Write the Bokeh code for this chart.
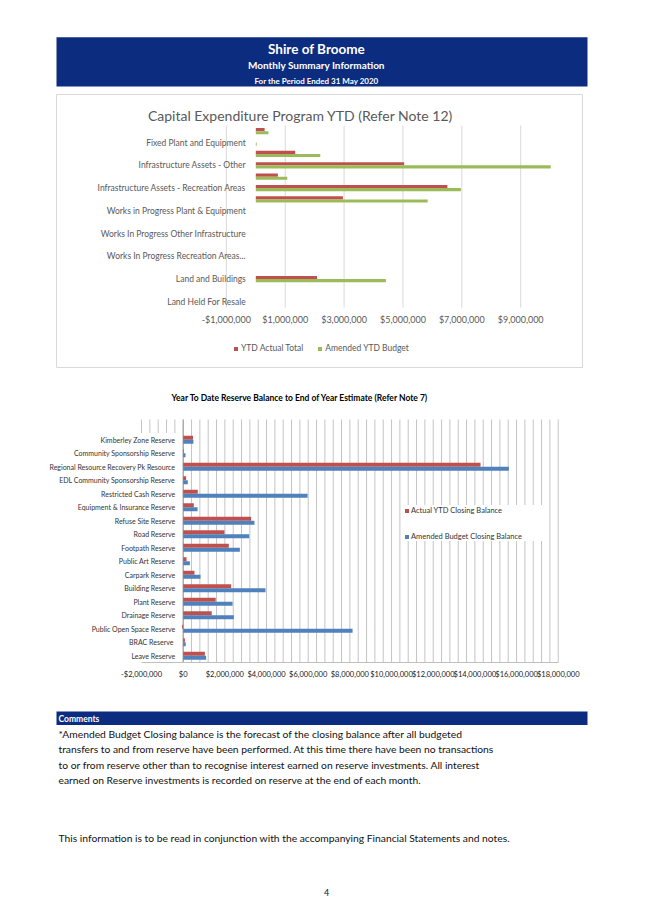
from bokeh.plotting import figure
from bokeh.layouts import column, row
from bokeh.models import (Range1d, FixedTicker, Legend, LegendItem, ColumnDataSource, Spacer)
from bokeh.core.properties import value
from bokeh.embed import file_html
from bokeh.resources import INLINE
import numpy as np

# ---------------- data ----------------
HEADER_LINES = ["Shire of Broome", "Monthly Summary Information", "For the Period Ended 31 May 2020"]

CAPEX_TITLE = "Capital Expenditure Program YTD (Refer Note 12)"
# top to bottom as drawn; only every other label is displayed (as in the source)
CAPEX_CATEGORIES = [
    "Furniture and Equipment",
    "Fixed Plant and Equipment",
    "Plant and Equipment",
    "Infrastructure Assets - Other",
    "Infrastructure Assets - Drainage",
    "Infrastructure Assets - Recreation Areas",
    "Infrastructure Assets - Roads",
    "Works in Progress Plant & Equipment",
    "Works In Progress Roads",
    "Works In Progress Other Infrastructure",
    "Works In Progress Footpaths",
    "Works In Progress Recreation Areas...",
    "Works In Progress Buildings",
    "Land and Buildings",
    "Land Under Control",
    "Land Held For Resale",
]
CAPEX_SHOWN = [False, True] * 8
CAPEX_ACTUAL = [300000, 0, 1340000, 5040000, 750000, 6510000, 2960000, 0,
                0, 0, 0, 0, 0, 2080000, 0, 0]
CAPEX_BUDGET = [430000, 30000, 2190000, 10020000, 1070000, 6970000, 5840000, 0,
                0, 0, 0, 0, 0, 4420000, 0, 0]
CAPEX_TICKS = [-1000000, 1000000, 3000000, 5000000, 7000000, 9000000]
CAPEX_TICK_LABELS = ["-$1,000,000", "$1,000,000", "$3,000,000", "$5,000,000",
                     "$7,000,000", "$9,000,000"]
CAPEX_SERIES = ["YTD Actual Total", "Amended YTD Budget"]

RES_TITLE = "Year To Date Reserve Balance to End of Year Estimate (Refer Note 7)"
RES_CATEGORIES = [
    "Kimberley Zone Reserve",
    "Community Sponsorship Reserve",
    "Regional Resource Recovery Pk Resource",
    "EDL Community Sponsorship Reserve",
    "Restricted Cash Reserve",
    "Equipment & Insurance Reserve",
    "Refuse Site Reserve",
    "Road Reserve",
    "Footpath Reserve",
    "Public Art Reserve",
    "Carpark Reserve",
    "Building Reserve",
    "Plant Reserve",
    "Drainage Reserve",
    "Public Open Space Reserve",
    "BRAC  Reserve",
    "Leave Reserve",
]
RES_ACTUAL = [470000, 30000, 14270000, 140000, 700000, 510000, 3260000, 1980000,
              2190000, 160000, 540000, 2300000, 1560000, 1370000, -50000, 80000, 1040000]
RES_BUDGET = [490000, 110000, 15630000, 220000, 5970000, 690000, 3420000, 3170000,
              2720000, 320000, 830000, 3950000, 2370000, 2430000, 8130000, 120000, 1100000]
RES_TICKS = [-2000000, 0, 2000000, 4000000, 6000000, 8000000, 10000000,
             12000000, 14000000, 16000000, 18000000]
RES_TICK_LABELS = ["-$2,000,000", "$0", "$2,000,000", "$4,000,000", "$6,000,000",
                   "$8,000,000", "$10,000,000", "$12,000,000", "$14,000,000",
                   "$16,000,000", "$18,000,000"]
RES_MINOR_STEP = 400000
RES_SERIES = ["Actual YTD Closing Balance", "Amended Budget Closing Balance"]

COMMENT_HEAD = "Comments"
COMMENT_LINES = [
    "*Amended Budget Closing balance is the forecast of the closing balance after all budgeted",
    "transfers to and from reserve have been performed. At this time there have been no transactions",
    "to or from reserve other than to recognise interest earned on reserve investments. All interest",
    "earned on Reserve investments is recorded on reserve at the end of each month.",
]
FOOTNOTE = "This information is to be read in conjunction with the accompanying Financial Statements and notes."
PAGE_NUMBER = "4"

# ---------------- style ----------------
FONT = "Lato"
NAVY = "#0c2c80"
RED = "#c0504d"
GREEN = "#9bbb59"
BLUE = "#4f81bd"
GREY = "#595959"
DARK = "#333333"


def fig(**kw):
    kw.setdefault("output_backend", "svg")
    kw.setdefault("toolbar_location", None)
    try:
        return figure(frame_align=False, **kw)
    except Exception:
        return figure(**kw)


def blank(width, height, x0, x1, y0, y1):
    f = fig(width=width, height=height, x_range=Range1d(x0, x1), y_range=Range1d(y0, y1),
            x_axis_type=None, y_axis_type=None, min_border=0)
    f.outline_line_color = None
    return f


def txt(p, x, y, s, size, color, align="left", bold=False, x_offset=0):
    p.text(x=x if isinstance(x, list) else [x], y=y if isinstance(y, list) else [y],
           text=s if isinstance(s, list) else [s], text_font=value(FONT),
           text_font_style="bold" if bold else "normal", text_font_size=size,
           text_color=color, text_align=align, text_baseline="middle", x_offset=x_offset)


# ---------------- header ----------------
head = blank(645, 93, 0, 645, 93, 0)
head.quad(left=56, right=587, top=36.7, bottom=86, fill_color=NAVY, line_color=None)
for line, yy, fs in zip(HEADER_LINES, [48, 64.3, 80], ["13.5px", "10px", "8px"]):
    txt(head, 316, yy, line, fs, "white", align="center", bold=True)

# ---------------- chart 1 (frame = chart box) ----------------
C1_ZERO_PX, C1_PXM = 255.3, 29.43 / 1e6        # x pixel of $0, pixels per dollar
C1_BOTTOM_PX, C1_ROW = 307.0, 182.0 / 16       # pixel of plot-area bottom, row height
B1_L, B1_R, B1_T, B1_B = 56, 582, 94, 367       # chart box (frame) in page pixels
n1 = len(CAPEX_CATEGORIES)


def X1(px):
    return (px - C1_ZERO_PX) / C1_PXM


def Y1(py):
    return -0.5 + (C1_BOTTOM_PX - py) / C1_ROW


p1 = fig(width=B1_R - B1_L + 2, height=287, x_range=Range1d(X1(B1_L), X1(B1_R)),
         y_range=Range1d(Y1(B1_B), Y1(B1_T)), x_axis_type=None, y_axis_type=None,
         min_border_left=1, min_border_right=1, min_border_top=1, min_border_bottom=13)
p1.outline_line_color = "#d9d9d9"
p1.outline_line_width = 1

p1.segment(x0=CAPEX_TICKS, x1=CAPEX_TICKS, y0=-0.5, y1=n1 - 0.5, line_color="#d9d9d9", line_width=1)

ypos1 = np.arange(n1)[::-1].astype(float)
src1 = ColumnDataSource(dict(ya=ypos1 + 0.14, yb=ypos1 - 0.14, act=CAPEX_ACTUAL, bud=CAPEX_BUDGET))
r1a = p1.hbar(y="ya", left=0, right="act", height=0.28, source=src1, fill_color=RED, line_color=None)
r1b = p1.hbar(y="yb", left=0, right="bud", height=0.28, source=src1, fill_color=GREEN, line_color=None)

txt(p1, [0] * sum(CAPEX_SHOWN), [yy for yy, s in zip(ypos1, CAPEX_SHOWN) if s],
    [c for c, s in zip(CAPEX_CATEGORIES, CAPEX_SHOWN) if s], "8.5px", GREY, align="right", x_offset=-10)
txt(p1, CAPEX_TICKS, [Y1(319)] * len(CAPEX_TICKS), CAPEX_TICK_LABELS, "9px", GREY, align="center")
txt(p1, X1(300), Y1(115), CAPEX_TITLE, "14px", GREY, align="center")

leg1 = Legend(items=[LegendItem(label=CAPEX_SERIES[0], renderers=[r1a]),
                     LegendItem(label=CAPEX_SERIES[1], renderers=[r1b])],
              location=(233 - B1_L, B1_B - 353), orientation="horizontal", padding=0, margin=0,
              spacing=14, glyph_width=5, glyph_height=5, label_standoff=3, label_height=10,
              label_text_font=FONT, label_text_font_size="8.5px", label_text_color=GREY,
              border_line_color=None, background_fill_alpha=0)
p1.add_layout(leg1)

# ---------------- chart 2 ----------------
C2_ZERO_PX, C2_PXM = 182.7, 20.835 / 1e6
C2_BOTTOM_PX, C2_ROW = 662.0, 13.5
P2_L, P2_R, P2_T = 44, 645, 380
n2 = len(RES_CATEGORIES)
NROW2 = n2 + 1   # one empty row on top


def X2(px):
    return (px - C2_ZERO_PX) / C2_PXM


def Y2(py):
    return -0.5 + (C2_BOTTOM_PX - py) / C2_ROW


p2 = fig(width=P2_R - P2_L, height=320, x_range=Range1d(X2(P2_L), X2(P2_R)),
         y_range=Range1d(-0.5, Y2(P2_T)), y_axis_type=None,
         min_border_left=0, min_border_right=0, min_border_top=0, min_border_bottom=38)
p2.outline_line_color = None
p2.grid.visible = False

grid_x = np.arange(RES_TICKS[0], RES_TICKS[-1] + 1, RES_MINOR_STEP)
grid_y0 = np.where(grid_x < 0, n2 - 0.5, -0.5)
p2.segment(x0=grid_x, x1=grid_x, y0=grid_y0, y1=NROW2 - 0.5, line_color="#c4c4c4", line_width=1)
p2.segment(x0=[0], x1=[0], y0=[-0.5], y1=[NROW2 - 0.5], line_color="#9a9a9a", line_width=1)

ypos2 = np.arange(n2)[::-1].astype(float)
src2 = ColumnDataSource(dict(ya=ypos2 + 0.15, yb=ypos2 - 0.15, act=RES_ACTUAL, bud=RES_BUDGET))
r2a = p2.hbar(y="ya", left=0, right="act", height=0.3, source=src2, fill_color=RED, line_color=None)
r2b = p2.hbar(y="yb", left=0, right="bud", height=0.3, source=src2, fill_color=BLUE, line_color=None)

txt(p2, [0] * n2, list(ypos2), RES_CATEGORIES, "7px", DARK, align="right", x_offset=-8)
txt(p2, X2(299.5), Y2(397), RES_TITLE, "8.5px", "black", align="center", bold=True)

p2.xaxis.ticker = FixedTicker(ticks=RES_TICKS)
p2.xaxis.major_label_overrides = dict(zip(RES_TICKS, RES_TICK_LABELS))
p2.xaxis.bounds = (RES_TICKS[0], RES_TICKS[-1])
p2.xaxis.axis_line_color = "#bfbfbf"
p2.xaxis.major_tick_line_color = None
p2.xaxis.minor_tick_line_color = None
p2.xaxis.major_tick_out = 0
p2.xaxis.major_tick_in = 0
p2.xaxis.minor_tick_out = 0
p2.xaxis.major_label_standoff = 7
p2.xaxis.major_label_text_font = FONT
p2.xaxis.major_label_text_font_size = "7.5px"
p2.xaxis.major_label_text_color = "#1a1a1a"

leg2 = Legend(items=[LegendItem(label=RES_SERIES[0], renderers=[r2a]),
                     LegendItem(label=RES_SERIES[1], renderers=[r2b])],
              location=(404 - P2_L, C2_BOTTOM_PX - 541), orientation="vertical", padding=8,
              margin=0, spacing=16, glyph_width=5, glyph_height=5, label_standoff=2,
              label_height=10, label_width=138, label_text_font=FONT,
              label_text_font_size="7.5px", label_text_color=DARK,
              border_line_color=None, background_fill_color="white", background_fill_alpha=1)
p2.add_layout(leg2)

# ---------------- comments / footer ----------------
foot = blank(645, 216, 0, 645, 916, 700)
foot.quad(left=56, right=587, top=711, bottom=724.5, fill_color=NAVY, line_color=None)
txt(foot, 58, 718, COMMENT_HEAD, "8.5px", "white", bold=True)
for i, line in enumerate(COMMENT_LINES):
    txt(foot, 58, 733.3 + i * 15.5, line, "10.3px", "#111111")
txt(foot, 58, 837, FOOTNOTE, "10.3px", "#111111")
txt(foot, 326, 892, PAGE_NUMBER, "9px", "#111111", align="center")

layout = column(head,
                row(Spacer(width=B1_L - 1, height=287), p1),
                row(Spacer(width=P2_L, height=320), p2),
                foot, spacing=0)
open("out.html", "w").write(file_html(layout, INLINE))
